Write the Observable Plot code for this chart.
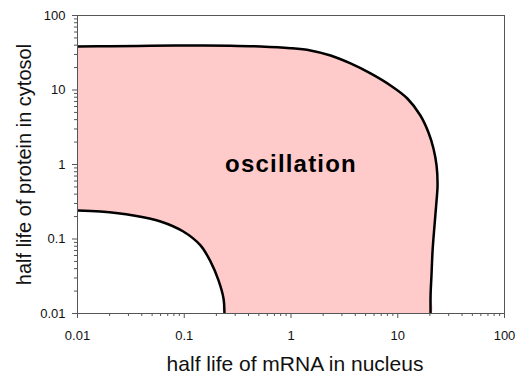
<!DOCTYPE html>
<html>
<head>
<meta charset="utf-8">
<script src="https://cdn.jsdelivr.net/npm/d3@7"></script>
<script src="https://cdn.jsdelivr.net/npm/@observablehq/plot@0.6"></script>
<style>
  html, body { margin: 0; padding: 0; background: #fff; }
  #chart svg { display: block; }
</style>
</head>
<body>
<div id="chart"></div>
<script>
// Upper boundary of the oscillatory region (mRNA half life, protein half life)
const upperX = [0.01, 0.0204, 0.0483, 0.1144, 0.271, 0.518, 0.989, 1.52, 2.35, 3.61, 5.56, 8.55, 12.3, 16.3, 19.4, 21.6, 23.1, 23.6, 23.1, 22.1, 21.2, 20.7, 20.3, 20.3];
const upperY = [38.4, 38.8, 39.2, 39.6, 39.3, 38.4, 36.4, 33.9, 29.0, 22.7, 16.7, 11.5, 7.69, 4.55, 2.69, 1.64, 0.970, 0.523, 0.329, 0.152, 0.0701, 0.0324, 0.0175, 0.01];

// Lower boundary of the oscillatory region
const lowerX = [0.01, 0.0164, 0.0335, 0.060, 0.098, 0.142, 0.176, 0.209, 0.233, 0.238];
const lowerY = [0.241, 0.234, 0.207, 0.172, 0.126, 0.082, 0.050, 0.028, 0.016, 0.01];

// Axis ticks and labels
const majorTicks = [0.01, 0.1, 1, 10, 100];
const minorTicks = [0.01, 0.1, 1, 10].flatMap(d => [2, 3, 4, 5, 6, 7, 8, 9].map(m => +(m * d).toPrecision(3)));
const xTitle = "half life of mRNA in nucleus";
const yTitle = "half life of protein in cytosol";
const regionLabel = ["oscillation"];
const regionLabelX = [1];
const regionLabelY = [1];

const upper = upperX.map((x, i) => ({x, y: upperY[i]}));
const lower = lowerX.map((x, i) => ({x, y: lowerY[i]}));
// Closed outline: along the upper curve, then back along the lower curve
const region = upper.concat(lower.slice().reverse());
const labels = regionLabel.map((t, i) => ({t, x: regionLabelX[i], y: regionLabelY[i]}));

const chart = Plot.plot({
  width: 520,
  height: 379,
  marginLeft: 77,
  marginRight: 16,
  marginTop: 15,
  marginBottom: 66,
  style: {fontFamily: "'Liberation Sans', Arial, sans-serif", fontSize: "13px", background: "#fff", color: "#111"},
  x: {type: "log", domain: [0.01, 100]},
  y: {type: "log", domain: [0.01, 100]},
  marks: [
    Plot.line(region, {x: "x", y: "y", fill: "#ffcaca", stroke: "none", curve: "catmull-rom", clip: true}),
    Plot.line(upper, {x: "x", y: "y", stroke: "#000", strokeWidth: 2.5, curve: "catmull-rom", clip: true}),
    Plot.line(lower, {x: "x", y: "y", stroke: "#000", strokeWidth: 2.5, curve: "catmull-rom", clip: true}),
    Plot.frame({stroke: "#555"}),
    Plot.axisX(majorTicks, {tickSize: 5, tickPadding: 12, tickFormat: d => String(d), fontSize: 13, stroke: "#555", label: null}),
    Plot.axisX(minorTicks, {tickSize: 3, tickFormat: () => "", stroke: "#555", label: null}),
    Plot.axisY(majorTicks, {tickSize: 5, tickPadding: 7, tickFormat: d => String(d), fontSize: 13, stroke: "#555", label: null}),
    Plot.axisY(minorTicks, {tickSize: 3, tickFormat: () => "", stroke: "#555", label: null}),
    Plot.text(labels, {x: "x", y: "y", text: "t", fontSize: 24, fontWeight: "bold", fill: "#000"}),
    Plot.text([xTitle], {frameAnchor: "bottom", dy: 57, dx: 4, fontSize: 21, fill: "#111"}),
    Plot.text([yTitle], {frameAnchor: "left", textAnchor: "middle", rotate: -90, dx: -53, fontSize: 20, fill: "#111"})
  ]
});

// Slightly wider tracking for the region label
for (const t of chart.querySelectorAll("text")) {
  if (regionLabel.includes(t.textContent)) t.style.letterSpacing = "1.2px";
}

document.getElementById("chart").appendChild(chart);
</script>
</body>
</html>
